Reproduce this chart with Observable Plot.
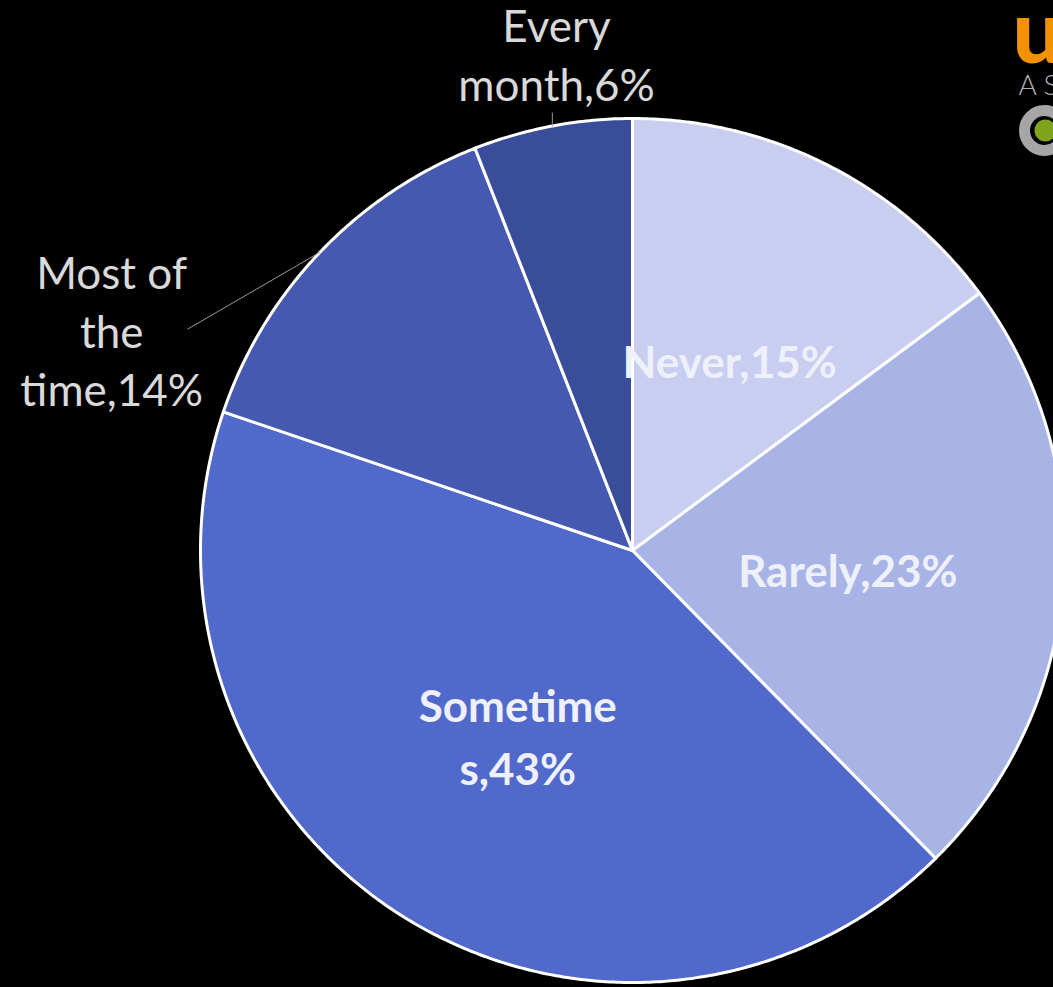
<!DOCTYPE html>
<html><head><meta charset="utf-8">
<script src="https://cdn.jsdelivr.net/npm/d3@7"></script>
<script src="https://cdn.jsdelivr.net/npm/@observablehq/plot@0.6"></script>
<style>html,body{margin:0;padding:0;background:#000;overflow:hidden}</style>
</head><body><div id="chart"></div>
<script>
// ---- data ----
const categories = ["Never", "Rarely", "Sometimes", "Most of the time", "Every month"];
const values = [15, 23, 43, 14, 6];
const labels = ["Never,15%", "Rarely,23%", "Sometime\ns,43%", "Most of\nthe\ntime,14%", "Every\nmonth,6%"];
const colors = ["#c9cef0", "#a8b4e6", "#5069cb", "#4559b0", "#394d9a"];

// ---- layout ----
const W = 1053, H = 987, CX = 632, CY = 550, R = 432;
const px = x => (x - CX) / R;       // pixel -> unit
const py = y => (CY - y) / R;

const arcs = d3.pie().sort(null).value(d => d)(values);
const pt = (a, r) => ({x: r * Math.sin(a), y: r * Math.cos(a)});

const slices = arcs.map((a, i) => {
  const pts = [{x: 0, y: 0}];
  const n = Math.max(8, Math.ceil((a.endAngle - a.startAngle) * 120));
  for (let k = 0; k <= n; k++) pts.push(pt(a.startAngle + (a.endAngle - a.startAngle) * k / n, 1));
  return pts;
});
const mid = arcs.map(a => (a.startAngle + a.endAngle) / 2);

// inside labels (first three), outside labels (last two)
const inner = [0, 1, 2].map(i => ({...pt(mid[i], 0.5), label: labels[i]}));
const outside = [
  {...pt(mid[3] - 0.36, 1.31), label: labels[3]},
  {...pt(mid[4] + 0.035, 1.165), label: labels[4]}
];
const leaders = [
  [pt(mid[3], 1.0), pt(mid[3] - 0.30, 1.15)],
  [pt(mid[4], 1.0), {x: pt(mid[4], 1.0).x, y: pt(mid[4], 1.0).y + 0.03}]
];

const font = "Lato, 'Open Sans', sans-serif";
const marks = [];
slices.forEach((s, i) => marks.push(Plot.line(s, {x: "x", y: "y", curve: "linear-closed", fill: colors[i], stroke: "#ffffff", strokeWidth: 3, strokeLinejoin: "round"})));
leaders.forEach(l => marks.push(Plot.line(l, {x: "x", y: "y", stroke: "#9a9a9a", strokeWidth: 1})));
marks.push(Plot.text(inner, {x: "x", y: "y", text: "label", fill: "#eef0fb", fontSize: 44, fontWeight: "bold", lineHeight: 1.42, fontFamily: font}));
marks.push(Plot.text(outside, {x: "x", y: "y", text: "label", fill: "#d9d9d9", fontSize: 44, lineHeight: 1.33, fontFamily: font}));
// logo (decoration, top-right)
marks.push(Plot.text([{x: px(1012), y: py(34), t: "u"}], {x: "x", y: "y", text: "t", textAnchor: "start", fill: "#f39200", fontSize: 88, fontWeight: 900, fontFamily: font}));
marks.push(Plot.text([{x: px(1018), y: py(86), t: "A S"}], {x: "x", y: "y", text: "t", textAnchor: "start", fill: "#b0b0b0", fontSize: 28, fontWeight: 300, fontFamily: font}));
marks.push(Plot.dot([{x: px(1044), y: py(130)}], {x: "x", y: "y", r: 20, fill: "#000", stroke: "#a6a6a6", strokeWidth: 11}));
marks.push(Plot.dot([{x: px(1045), y: py(130)}], {x: "x", y: "y", r: 11, fill: "#7fa31b"}));

const chart = Plot.plot({
  width: W, height: H,
  margin: 0,
  x: {domain: [px(0), px(W)], axis: null},
  y: {domain: [py(H), py(0)], axis: null},
  style: {background: "#000", overflow: "hidden"},
  marks
});
document.getElementById("chart").append(chart);
</script>
</body></html>
